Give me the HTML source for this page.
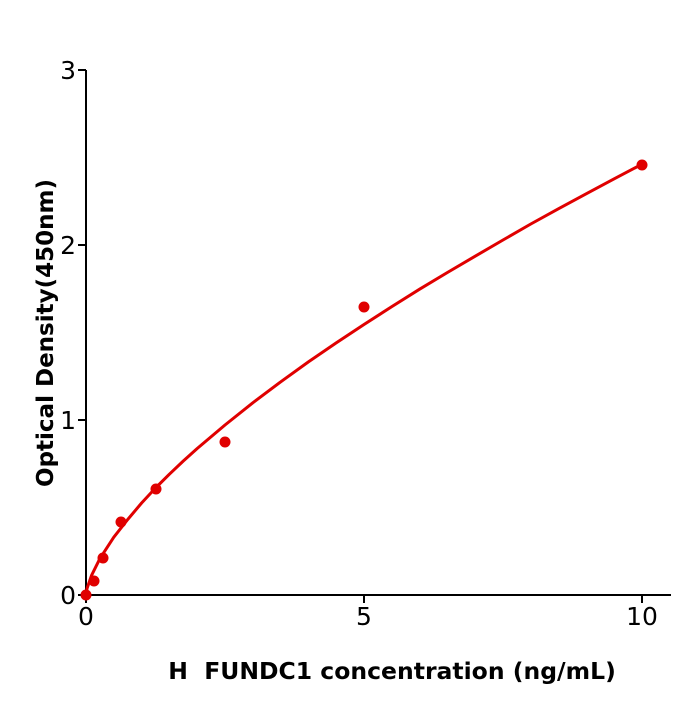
<!DOCTYPE html>
<html><head><meta charset="utf-8"><style>body{margin:0;background:#fff}</style></head>
<body>
<svg width="700" height="700" xmlns="http://www.w3.org/2000/svg" font-family="DejaVu Sans, sans-serif">
<rect width="700" height="700" fill="#fff"/>
<g stroke="#000" stroke-width="2" fill="none">
<line x1="86" y1="70" x2="86" y2="596"/>
<line x1="85" y1="595" x2="671" y2="595"/>
<line x1="78" y1="70" x2="86" y2="70"/>
<line x1="78" y1="245" x2="86" y2="245"/>
<line x1="78" y1="420" x2="86" y2="420"/>
<line x1="78" y1="595" x2="86" y2="595"/>
<line x1="86" y1="595" x2="86" y2="603"/>
<line x1="364" y1="595" x2="364" y2="603"/>
<line x1="642" y1="595" x2="642" y2="603"/>
</g>
<g font-size="25" fill="#000">
<text x="76" y="79" text-anchor="end">3</text>
<text x="76" y="254" text-anchor="end">2</text>
<text x="76" y="429" text-anchor="end">1</text>
<text x="76" y="604" text-anchor="end">0</text>
<text x="86" y="625" text-anchor="middle">0</text>
<text x="364" y="625" text-anchor="middle">5</text>
<text x="642" y="625" text-anchor="middle">10</text>
</g>
<text x="392" y="679" text-anchor="middle" font-size="23.5" font-weight="bold" xml:space="preserve" style="white-space:pre">H  FUNDC1 concentration (ng/mL)</text>
<text transform="translate(53,333) rotate(-90)" text-anchor="middle" font-size="23" font-weight="bold">Optical Density(450nm)</text>
<polyline fill="none" stroke="#e00000" stroke-width="3" stroke-linejoin="round" points="86,595 87.1,588.3 91.6,575.3 99.9,558.6 113.8,537.2 127.7,519.5 141.6,503 155.5,488 169.4,474.2 183.3,461 197.2,448.5 225,425 252.8,402.8 280.6,381.9 308.4,361.9 336.2,342.9 364,324.5 391.8,306.6 419.6,289.2 447.4,272.5 475.2,256.2 503,240 530.8,224 558.6,208.7 586.4,193.7 614.2,178.8 642,164.2"/>
<g fill="#e00000">
<circle cx="86" cy="595" r="5.5"/>
<circle cx="94" cy="581" r="5.5"/>
<circle cx="103" cy="558" r="5.5"/>
<circle cx="121" cy="522" r="5.5"/>
<circle cx="156" cy="489" r="5.5"/>
<circle cx="225" cy="442" r="5.5"/>
<circle cx="364" cy="307" r="5.5"/>
<circle cx="642" cy="165" r="5.5"/>
</g>
</svg>
</body></html>
